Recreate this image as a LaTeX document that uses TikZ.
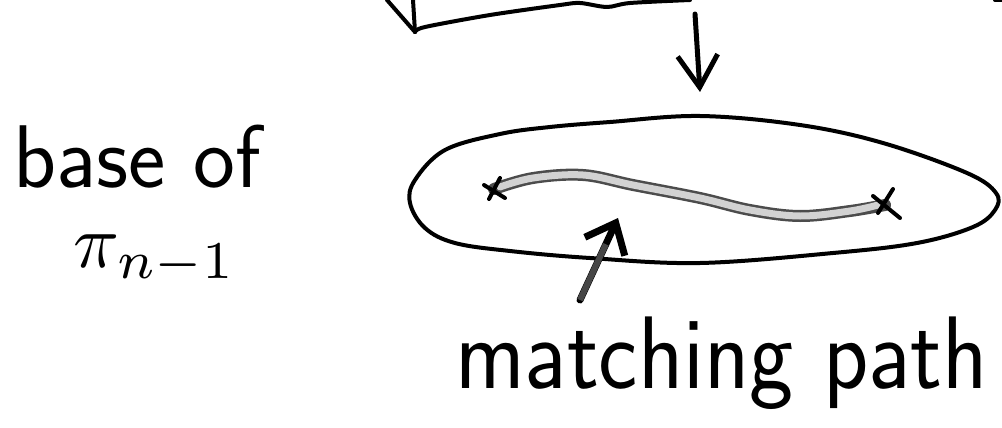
\documentclass[tikz,border=0pt]{standalone}
\usetikzlibrary{arrows.meta,calc}
\begin{document}
\begin{tikzpicture}[x=1pt,y=-1pt,
  ink/.style={line width=4pt, line cap=round, line join=round},
  hand/.style={inner sep=0pt, outer sep=0pt, anchor=base west},
  cross/.style={line width=4pt, line cap=round},
  barb/.style={-{Straight Barb[length=#1, width=40pt]}}
]
\useasboundingbox (0,0) rectangle (1002,428);
% fragment of the box above
\draw[ink] (387,0) -- (415,32);
\draw[ink] (413,0) -- (415,32);
\draw[ink] plot[smooth, tension=0.5] coordinates {(415,32) (425,27) (490,15) (560,5) (580,3) (607,7) (630,3) (690,0)};
\draw[ink] (995,0) -- (1002,0);
% down arrow
\coordinate (boxbottom) at (695,14);
\coordinate (basetop) at (700,92);
\draw[ink, line width=5pt, barb=32pt] (boxbottom) -- (basetop);
% base (ellipse)
\draw[ink] plot[smooth cycle, tension=0.6] coordinates {
 (410,203) (425,228) (455,243) (510,251) (590,258) (700,263) (833,253)
 (917,243) (973,227) (995,210) (996,193) (967,173) (883,143) (800,125)
 (700,116) (610,122) (550,127) (500,134) (445,150) (415,180)};
% matching path
\coordinate (pA) at (494,189);
\coordinate (pB) at (885,205);
\draw[line width=12pt, gray!60!black, line cap=round] plot[smooth, tension=0.6] coordinates {(pA) (533,178) (583,175) (633,185) (700,198) (750,210) (800,216) (850,211) (pB)};
\draw[line width=7pt, gray!35, line cap=round] plot[smooth, tension=0.6] coordinates {(500,187) (533,178) (583,175) (633,185) (700,198) (750,210) (800,216) (850,211) (878,205)};
% end marks
\draw[cross] (484,185) -- (505,198);
\draw[cross] (500,178) -- (489,199);
\draw[cross] (873,196) -- (900,218);
\draw[cross] (893,189) -- (878,213);
% texts
\node[inner sep=0pt, outer sep=0pt, anchor=north west, align=left,
      font=\sffamily\fontsize{89}{80}\selectfont] (base) at (13,125)
  {base of\\\hspace*{61pt}{\fontsize{10}{12}\selectfont\scalebox{7.6}{$\pi_{n-1}$}}};
\node[hand, font=\sffamily\fontsize{86}{100}\selectfont] (mp) at (455,388) {\scalebox{1.09}[1.2]{matching path}};
% pointer arrow
\coordinate (ptail) at (580,300);
\coordinate (ptip) at (618,218);
\draw[line width=7pt, line cap=round, -{Straight Barb[length=26pt, width=44pt]}] (ptail) -- (ptip);
\draw[line width=6pt, gray!55!black, line cap=butt] (ptail) -- ($(ptail)!0.68!(ptip)$);
\end{tikzpicture}
\end{document}
